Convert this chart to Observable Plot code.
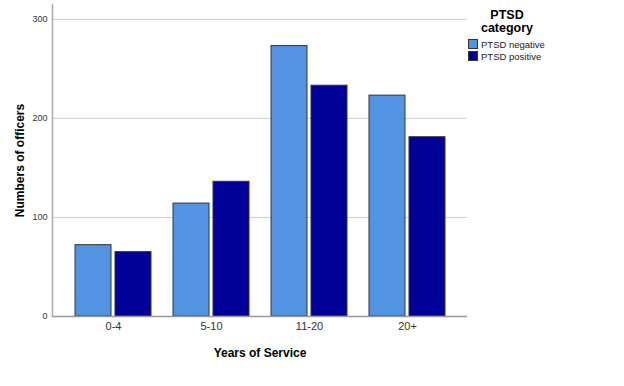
<!DOCTYPE html>
<html>
<head>
<meta charset="utf-8">
<script src="https://cdn.jsdelivr.net/npm/d3@7"></script>
<script src="https://cdn.jsdelivr.net/npm/@observablehq/plot@0.6"></script>
<style>
  body { margin: 0; background: #fff; font-family: Arial, "Liberation Sans", sans-serif; }
  #wrap { position: relative; width: 624px; height: 386px; }
  #legend { position: absolute; left: 468px; top: 9px; width: 80px; font-family: Arial, "Liberation Sans", sans-serif; }
  #legend .title { font-weight: bold; font-size: 12.5px; text-align: center; line-height: 12.5px; color: #000; margin-left: -2px; }
  #legend .item { display: flex; align-items: center; font-size: 9.5px; color: #222; height: 12px; }
  #legend .sw { width: 8px; height: 8px; border: 1px solid #333; margin-right: 3px; }
</style>
</head>
<body>
<div id="wrap"></div>
<script>
const categories = ["0-4", "5-10", "11-20", "20+"];
const series = ["PTSD negative", "PTSD positive"];
const negative = [72, 114, 273, 223];
const positive = [65, 136, 233, 181];
const yTicks = [0, 100, 200, 300];
const colors = ["#5294e2", "#000099"];

const negData = categories.map((c, i) => ({category: c, value: negative[i]}));
const posData = categories.map((c, i) => ({category: c, value: positive[i]}));

const plot = Plot.plot({
  width: 624,
  height: 386,
  marginLeft: 52,
  marginRight: 157,
  marginTop: 4,
  marginBottom: 70,
  style: {fontFamily: "Arial, 'Liberation Sans', sans-serif", background: "#fff"},
  x: {domain: categories, padding: 0.226, label: null},
  y: {domain: [0, 315], label: null},
  marks: [
    Plot.ruleY(yTicks.filter(d => d > 0), {stroke: "#cfcfcf", strokeWidth: 1}),
    Plot.barY(negData, {x: "category", y: "value", fill: colors[0], stroke: "#333", strokeWidth: 1, insetRight: 40}),
    Plot.barY(posData, {x: "category", y: "value", fill: colors[1], stroke: "#333", strokeWidth: 1, insetLeft: 40}),
    Plot.ruleY([0], {stroke: "#999", strokeWidth: 1.5}),
    Plot.frame({anchor: "left", stroke: "#aaa", strokeWidth: 1.5}),
    Plot.axisY({ticks: yTicks, tickSize: 0, tickPadding: 5, fontSize: 9, fill: "#333",
      label: "Numbers of officers", labelAnchor: "center", labelOffset: 37, labelArrow: "none"}),
    Plot.axisX({tickSize: 0, tickPadding: 6, fontSize: 11, fill: "#333",
      label: "Years of Service", labelAnchor: "center", labelOffset: 40, labelArrow: "none"})
  ]
});

// bold axis labels
plot.querySelectorAll("[aria-label='y-axis label'] text, [aria-label='x-axis label'] text").forEach(t => {
  t.style.fontWeight = "bold";
  t.style.fontSize = "12px";
  t.setAttribute("fill", "#000");
});

const wrap = document.getElementById("wrap");
wrap.appendChild(plot);

const legend = document.createElement("div");
legend.id = "legend";
legend.innerHTML = `<div class="title">PTSD<br>category</div>` +
  series.map((s, i) => `<div class="item"><div class="sw" style="background:${colors[i]}"></div>${s}</div>`).join("");
legend.querySelector(".title").style.marginBottom = "4px";
wrap.appendChild(legend);
</script>
</body>
</html>
